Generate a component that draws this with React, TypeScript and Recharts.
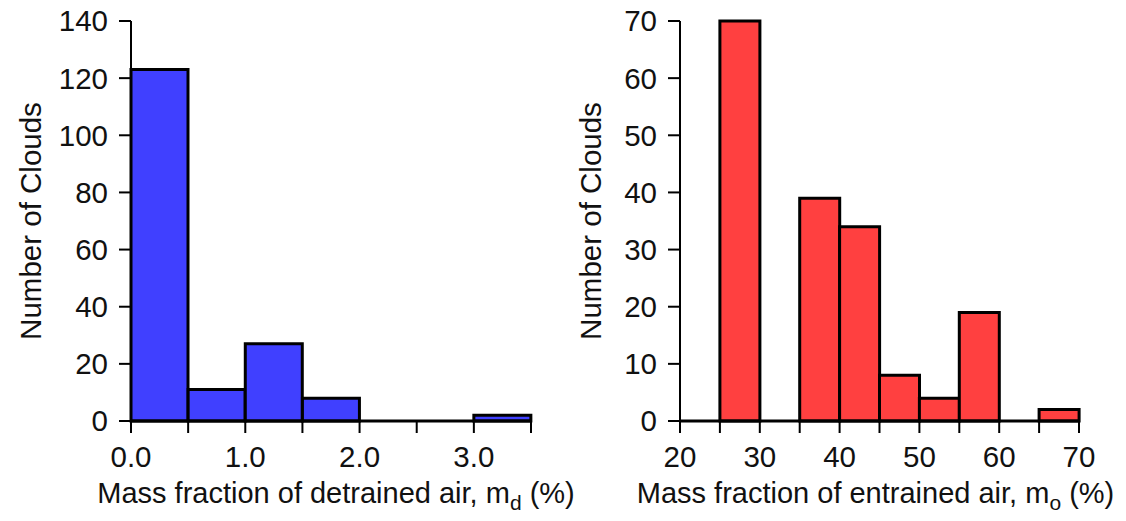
import React from 'react'
import { ComposedChart, Bar, XAxis, YAxis, Label } from 'recharts'

// detrained air histogram (bin width 0.5 %)
const detrainedBinStart = [0, 0.5, 1.0, 1.5, 2.0, 2.5, 3.0]
const detrainedCounts = [123, 11, 27, 8, 0, 0, 2]
const detrainedXTicks = [0, 0.5, 1.0, 1.5, 2.0, 2.5, 3.0, 3.5]
const detrainedYTicks = [0, 20, 40, 60, 80, 100, 120, 140]

// entrained air histogram (bin width 5 %)
const entrainedBinStart = [20, 25, 30, 35, 40, 45, 50, 55, 60, 65]
const entrainedCounts = [0, 70, 0, 39, 34, 8, 4, 19, 0, 2]
const entrainedXTicks = [20, 25, 30, 35, 40, 45, 50, 55, 60, 65, 70]
const entrainedYTicks = [0, 10, 20, 30, 40, 50, 60, 70]

const FONT = '"Liberation Sans", Arial, sans-serif'
const INK = '#111'

const toBins = (starts: number[], counts: number[], width: number) =>
  starts.map((s, i) => ({ mid: s + width / 2, count: counts[i] }))

const detrainedData = toBins(detrainedBinStart, detrainedCounts, 0.5)
const entrainedData = toBins(entrainedBinStart, entrainedCounts, 5)

// y title, rotated
const YTitle = (props: any) => {
  const { viewBox, dx } = props
  const cx = viewBox.x + dx
  const cy = viewBox.y + viewBox.height / 2
  return (
    <text
      x={cx}
      y={cy}
      transform={`rotate(-90 ${cx} ${cy})`}
      textAnchor="middle"
      dominantBaseline="central"
      fontFamily={FONT}
      fontSize={29.5}
      fill={INK}
    >
      Number of Clouds
    </text>
  )
}

// x title with subscript
const XTitle = (props: any) => {
  const { viewBox, word, sub, dx } = props
  return (
    <text
      x={viewBox.x + viewBox.width / 2 + dx}
      y={viewBox.y + 82}
      textAnchor="middle"
      fontFamily={FONT}
      fontSize={29}
      fill={INK}
    >
      {`Mass fraction of ${word} air, m`}
      <tspan dy={7} fontSize={21}>{sub}</tspan>
      <tspan dy={-7}>{' (%)'}</tspan>
    </text>
  )
}

const tickStyle = { fill: INK, fontSize: 29.5, fontFamily: FONT }

interface HistProps {
  data: { mid: number; count: number }[]
  xDomain: [number, number]
  xTicks: number[]
  yTicks: number[]
  fmt: (v: number) => string
  color: string
  word: string
  sub: string
  left: number
  width: number
  yAxisWidth: number
  marginRight: number
  titleDx: number
  yTitleDx: number
}

function Histogram({ data, xDomain, xTicks, yTicks, fmt, color, word, sub, left, width, yAxisWidth, marginRight, titleDx, yTitleDx }: HistProps) {
  return (
    <div style={{ position: 'absolute', left, top: 0 }}>
      <ComposedChart
        width={width}
        height={521}
        data={data}
        barCategoryGap={0}
        barGap={0}
        margin={{ top: 21, right: marginRight, left: 0, bottom: 0 }}
      >
        <XAxis
          dataKey="mid"
          type="number"
          domain={xDomain}
          ticks={xTicks}
          interval={0}
          tickFormatter={fmt}
          height={100}
          tickSize={12}
          tickMargin={13}
          tick={tickStyle}
          axisLine={{ stroke: '#000', strokeWidth: 3 }}
          tickLine={{ stroke: '#000', strokeWidth: 2 }}
        >
          <Label content={<XTitle word={word} sub={sub} dx={titleDx} />} />
        </XAxis>
        <XAxis xAxisId="frame" orientation="top" type="number" domain={xDomain} height={0} tick={false} tickLine={false} axisLine={{ stroke: '#000', strokeWidth: 1.5 }} />
        <YAxis
          type="number"
          domain={[yTicks[0], yTicks[yTicks.length - 1]]}
          ticks={yTicks}
          interval={0}
          width={yAxisWidth}
          tickSize={12}
          tickMargin={11}
          tick={tickStyle}
          axisLine={{ stroke: '#000', strokeWidth: 2 }}
          tickLine={{ stroke: '#000', strokeWidth: 2 }}
        >
          <Label content={<YTitle dx={yTitleDx} />} />
        </YAxis>
        <YAxis yAxisId="frame" orientation="right" type="number" domain={[0, 1]} width={0} tick={false} tickLine={false} axisLine={{ stroke: '#000', strokeWidth: 1.5 }} />
        <Bar dataKey="count" fill={color} stroke="#000" strokeWidth={3} isAnimationActive={false} />
      </ComposedChart>
    </div>
  )
}

export default function App() {
  return (
    <div style={{ position: 'absolute', left: 0, top: 0, width: 1126, height: 521, background: '#fff' }}>
      <Histogram
        data={detrainedData}
        xDomain={[0, 3.5]}
        xTicks={detrainedXTicks}
        yTicks={detrainedYTicks}
        fmt={(v) => (Number.isInteger(v) && v <= 3 ? v.toFixed(1) : '')}
        color="#4040ff"
        word="detrained"
        sub="d"
        left={0}
        width={600}
        yAxisWidth={131}
        marginRight={69}
        titleDx={5}
        yTitleDx={30}
      />
      <Histogram
        data={entrainedData}
        xDomain={[20, 70]}
        xTicks={entrainedXTicks}
        yTicks={entrainedYTicks}
        fmt={(v) => (v % 10 === 0 ? String(v) : '')}
        color="#ff4040"
        word="entrained"
        sub="o"
        left={563}
        width={563}
        yAxisWidth={117}
        marginRight={47}
        titleDx={-4}
        yTitleDx={27}
      />
    </div>
  )
}
